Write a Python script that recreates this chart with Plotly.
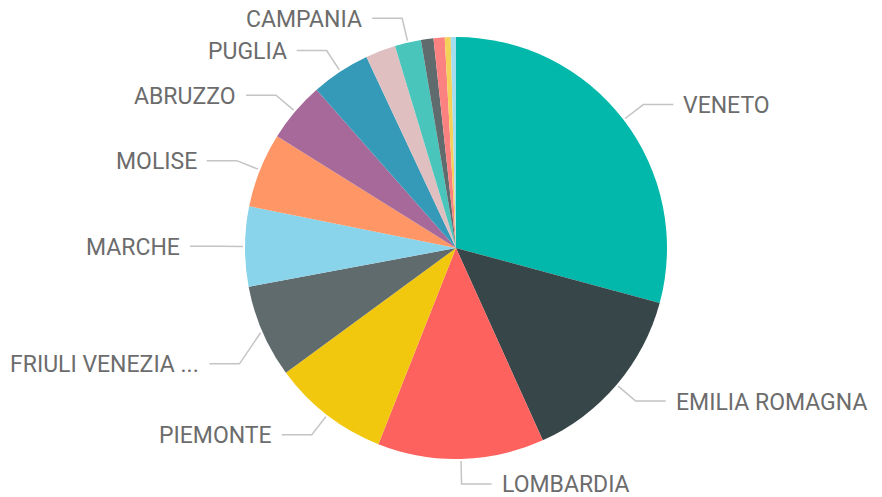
import math
import plotly.graph_objects as go

# Regional share, clockwise from 12 o'clock
regions = ["Veneto", "Emilia Romagna", "Lombardia", "Piemonte", "Friuli Venezia Giulia",
           "Marche", "Molise", "Abruzzo", "Puglia", "Toscana", "Campania",
           "Lazio", "Trentino Alto Adige", "Sardegna", "Sicilia"]
values = [29.1, 14.0, 12.7, 8.9, 7.1, 6.1, 5.7, 4.6, 4.5, 2.3, 2.0, 0.95, 0.85, 0.45, 0.4]
label_text = ["VENETO", "EMILIA ROMAGNA", "LOMBARDIA", "PIEMONTE", "FRIULI VENEZIA ...",
              "MARCHE", "MOLISE", "ABRUZZO", "PUGLIA", "", "CAMPANIA",
              "", "", "", ""]
colors = ["#01B8AA", "#374649", "#FD625E", "#F2C80F", "#5F6B6D", "#8AD4EB", "#FE9666",
          "#A66999", "#3599B8", "#DFBFBF", "#4AC5BB", "#5F6B6D", "#FB8281", "#F4D25A",
          "#A4DDEE"]

W, H = 882, 497
CX, CY, R = 456, 248, 211
label_shift = {"FRIULI VENEZIA ...": 22}


def px(x):
    return x / W


def py(y):
    return 1 - y / H


fig = go.Figure(go.Pie(
    labels=regions, values=values, sort=False, direction="clockwise", rotation=0,
    marker=dict(colors=colors, line=dict(width=0)),
    textinfo="none", hoverinfo="label+percent",
    domain=dict(x=[px(CX - R), px(CX + R)], y=[py(CY + R), py(CY - R)]),
))

total = sum(values)
cum = 0.0
shapes, annotations = [], []
for v, txt in zip(values, label_text):
    mid = (cum + v / 2) / total * 360
    cum += v
    if not txt:
        continue
    a = math.radians(mid)
    sx, sy = CX + (R + 2) * math.sin(a), CY - (R + 2) * math.cos(a)
    ex, ey = CX + (R + 25) * math.sin(a), CY - (R + 25) * math.cos(a)
    ey += label_shift.get(txt, 0)
    right = math.sin(a) >= 0
    hx = ex + 30 if right else ex - 30
    shapes.append(dict(
        type="path", xref="paper", yref="paper",
        path=f"M {px(sx)} {py(sy)} L {px(ex)} {py(ey)} L {px(hx)} {py(ey)}",
        line=dict(color="#c4c4c4", width=1.5),
    ))
    annotations.append(dict(
        x=px(hx + (8 if right else -8)), y=py(ey + 1), xref="paper", yref="paper",
        text=txt, showarrow=False, xanchor="left" if right else "right", yanchor="middle",
        font=dict(family="Roboto", size=23, color="#6c6c6c"),
    ))

fig.update_layout(
    width=W, height=H, margin=dict(l=0, r=0, t=0, b=0),
    paper_bgcolor="white", plot_bgcolor="white", showlegend=False,
    shapes=shapes, annotations=annotations,
)
fig.write_html("out.html")
